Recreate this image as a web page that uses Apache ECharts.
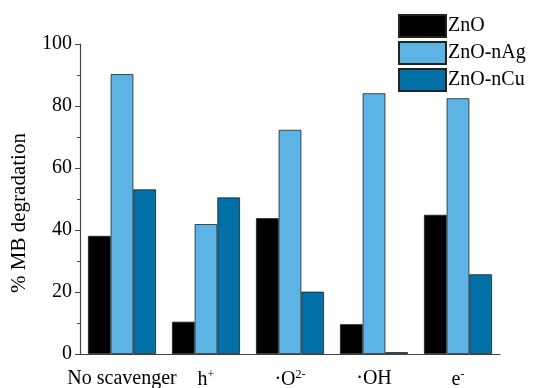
<!DOCTYPE html>
<html><head><meta charset="utf-8">
<script src="https://cdn.jsdelivr.net/npm/echarts@6/dist/echarts.min.js"></script>
<style>html,body{margin:0;padding:0;background:#fff}#c{width:533px;height:388px}</style>
</head><body><div id="c"></div>
<script>
const categories = ['No scavenger', 'h{sup|+}', '·O{sup|2-}', '·OH', 'e{sup|-}'];
const seriesNames = ['ZnO', 'ZnO-nAg', 'ZnO-nCu'];
const znO = [38.1, 10.4, 43.8, 9.6, 44.9];
const znOnAg = [90.3, 41.9, 72.3, 84.1, 82.5];
const znOnCu = [53.1, 50.5, 20.1, 0.6, 25.7];
const yTicks = [0, 20, 40, 60, 80, 100];
const colors = ['#000000', '#5cb4e4', '#0070a6'];
const font = 'Liberation Serif, Times New Roman, serif';
const chart = echarts.init(document.getElementById('c'));
const mk = (name, data, i) => ({
  name, type: 'bar', data, barGap: '0%', barCategoryGap: '19%',
  itemStyle: { color: colors[i], borderColor: '#222', borderWidth: 0.8 }
});
chart.setOption({
  animation: false,
  grid: { left: 80, right: 33, top: 44, bottom: 34, outerBoundsMode: 'none', containLabel: false },
  legend: {
    orient: 'vertical', left: 398, top: 14, padding: 0, itemWidth: 47, itemHeight: 22, itemGap: 3,
    icon: 'rect', data: seriesNames,
    textStyle: { fontFamily: font, fontSize: 20, color: '#000', padding: [0, 0, 0, -3] }
  },
  xAxis: [{
    type: 'category', data: categories,
    axisLine: { lineStyle: { color: '#444', width: 1.2 } },
    axisTick: { alignWithLabel: true, length: 5, lineStyle: { color: '#444' } },
    axisLabel: {
      interval: 0, fontFamily: font, fontSize: 20, color: '#000', margin: 15,
      rich: { sup: { fontFamily: font, fontSize: 12, color: '#000', verticalAlign: 'top', padding: [0, 0, 9, 0] } }
    }
  }, {
    type: 'category', data: categories, position: 'bottom',
    axisLine: { show: false }, axisLabel: { show: false },
    axisTick: { length: 3, lineStyle: { color: '#444' } }
  }],
  yAxis: {
    type: 'value', min: yTicks[0], max: yTicks[yTicks.length - 1], interval: 20,
    name: '% MB degradation', nameLocation: 'middle', nameGap: 50,
    nameTextStyle: { fontFamily: font, fontSize: 21, color: '#000', padding: [0, 28, 0, 0] },
    axisLine: { show: true, lineStyle: { color: '#444', width: 1.2 } },
    axisTick: { show: true, length: 5, lineStyle: { color: '#444' } },
    minorTick: { show: true, splitNumber: 2, length: 3, lineStyle: { color: '#444' } },
    splitLine: { show: false },
    axisLabel: { fontFamily: font, fontSize: 20, color: '#000', margin: 8 }
  },
  series: [mk(seriesNames[0], znO, 0), mk(seriesNames[1], znOnAg, 1), mk(seriesNames[2], znOnCu, 2)]
});
</script></body></html>
